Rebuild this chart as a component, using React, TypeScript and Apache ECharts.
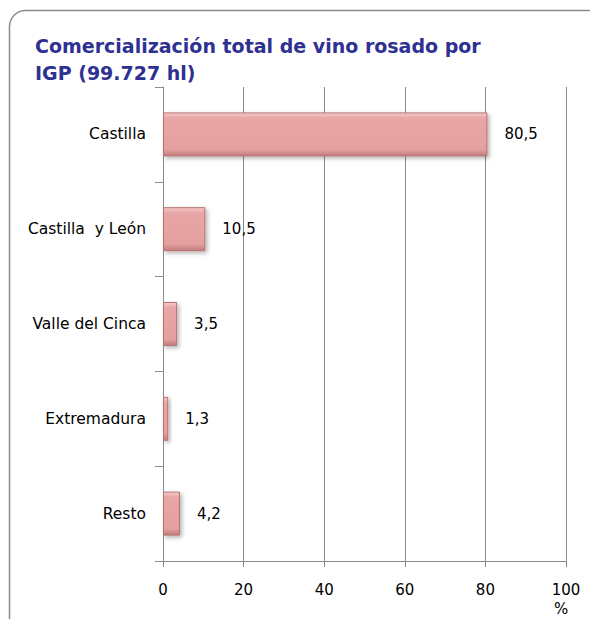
import React, { useEffect, useRef } from "react";
import * as echarts from "echarts";

const categories = ["Castilla", "Castilla  y León", "Valle del Cinca", "Extremadura", "Resto"];
const values = [80.5, 10.5, 3.5, 1.3, 4.2];
const valueLabels = ["80,5", "10,5", "3,5", "1,3", "4,2"];
const titleLines = ["Comercialización total de vino rosado por", "IGP (99.727 hl)"];

export default function App() {
  const ref = useRef<HTMLDivElement>(null);
  useEffect(() => {
    const chart = echarts.init(ref.current!, undefined, { renderer: "svg" });
    const font = "'DejaVu Sans', Verdana, sans-serif";
    chart.setOption({
      animation: false,
      backgroundColor: "#ffffff",
      grid: { left: 163, right: 24, top: 87, bottom: 58, containLabel: false },
      xAxis: {
        type: "value",
        min: 0,
        max: 100,
        interval: 20,
        axisLine: { show: true, lineStyle: { color: "#8a8a8a", width: 1 } },
        axisTick: { show: true, length: 6, lineStyle: { color: "#8a8a8a" } },
        axisLabel: { color: "#000", fontSize: 15, fontFamily: font, margin: 21 },
        splitLine: { show: true, lineStyle: { color: "#8a8a8a", width: 1 } },
      },
      yAxis: {
        type: "category",
        data: categories,
        inverse: true,
        axisLine: { show: true, lineStyle: { color: "#8a8a8a", width: 1 } },
        axisTick: { show: true, length: 8, alignWithLabel: false, lineStyle: { color: "#8a8a8a" } },
        axisLabel: { color: "#000", fontSize: 15.5, fontFamily: font, margin: 17 },
        splitLine: { show: false },
      },
      series: [
        {
          type: "bar",
          data: values,
          barWidth: 44,
          itemStyle: {
            color: new echarts.graphic.LinearGradient(0, 0, 0, 1, [
              { offset: 0, color: "#f6caca" },
              { offset: 0.12, color: "#e9a6a6" },
              { offset: 0.85, color: "#e4a0a0" },
              { offset: 1, color: "#c17b7b" },
            ]),
            borderColor: "#b77272",
            borderWidth: 1,
            shadowBlur: 4,
            shadowOffsetX: 2,
            shadowOffsetY: 2,
            shadowColor: "rgba(0,0,0,0.3)",
          },
          label: {
            show: true,
            position: "right",
            distance: 17,
            color: "#000",
            fontSize: 15,
            fontFamily: font,
            formatter: (p: any) => valueLabels[p.dataIndex],
          },
        },
      ],
      graphic: [
        {
          type: "rect",
          shape: { x: 9.5, y: 10.5, width: 640, height: 700, r: 16 },
          style: { fill: "none", stroke: "#8c8c8c", lineWidth: 1.5 },
          z: -1,
        },
        {
          type: "text",
          left: 35,
          top: 32,
          style: {
            text: titleLines.join("\n"),
            fill: "#2e3192",
            font: `bold 19px ${font}`,
            lineHeight: 27,
          },
        },
        {
          type: "text",
          left: 554,
          top: 601,
          style: { text: "%", fill: "#000", font: `15px ${font}` },
        },
      ],
    });
    return () => chart.dispose();
  }, []);
  return (
    <div
      ref={ref}
      style={{ position: "fixed", left: 0, top: 0, width: 590, height: 619 }}
    />
  );
}
